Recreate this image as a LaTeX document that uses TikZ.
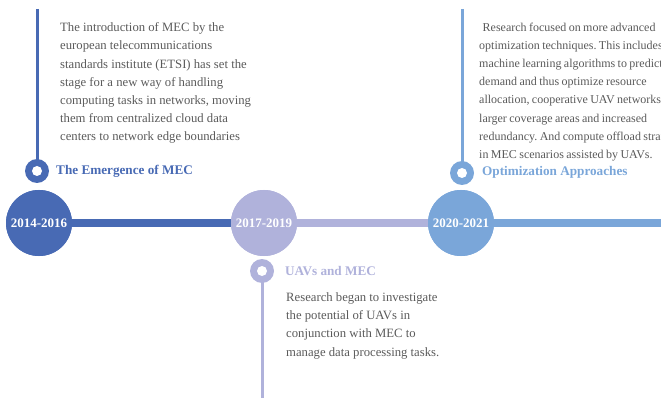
\documentclass[tikz,border=0pt]{standalone}
\usepackage{fontspec}
\setmainfont{Liberation Serif}
\frenchspacing
\definecolor{eraA}{RGB}{72,106,180}
\definecolor{eraB}{RGB}{176,178,219}
\definecolor{eraC}{RGB}{122,166,217}
\definecolor{bodygray}{RGB}{90,90,90}
% tighter word spacing for the long description
\newcommand{\densetext}{\fontsize{12}{18.2}\selectfont\spaceskip=0.2em\relax}
\begin{document}
\begin{tikzpicture}[x=1pt,y=-1pt,
  yearcircle/.style={circle,fill=#1,minimum size=66pt,inner sep=0pt,text=white,
    font=\fontsize{13}{13}\selectfont\bfseries},
  pinouter/.style={circle,fill=#1,minimum size=24pt,inner sep=0pt},
  pininner/.style={circle,fill=white,minimum size=10pt,inner sep=0pt},
  stem/.style={draw=#1,line width=3pt},
  bar/.style={draw=#1,line width=8pt},
  title/.style={anchor=west,inner sep=0pt,text=#1,font=\fontsize{13.2}{13.2}\selectfont\bfseries},
  body/.style={anchor=north west,inner sep=0pt,align=left,text=bodygray,
    font=\fontsize{12.7}{18.2}\selectfont},
  densebody/.style={body,font=\densetext}]
\useasboundingbox (0,0) rectangle (661,398);
\clip (0,0) rectangle (661,398);
% timeline bars
\coordinate (barend) at (661,223);
\node[yearcircle=eraA] (y1) at (39,223) {};
\node[yearcircle=eraB] (y2) at (264,223) {};
\node[yearcircle=eraC] (y3) at (461,223) {};
\draw[bar=eraA] (y1.center) -- (y2.center);
\draw[bar=eraB] (y2.center) -- (y3.center);
\draw[bar=eraC] (y3.center) -- (barend);
\node[yearcircle=eraA] at (y1) {2014-2016};
\node[yearcircle=eraB] at (y2) {2017-2019};
\node[yearcircle=eraC] at (y3) {2020-2021};
% stems and pins
\coordinate (top1) at (37,9);
\coordinate (bot2) at (262,398);
\coordinate (top3) at (462,9);
\node[pinouter=eraA] (p1) at (37,171) {};
\node[pinouter=eraB] (p2) at (262,271) {};
\node[pinouter=eraC] (p3) at (462,173) {};
\draw[stem=eraA] (top1) -- (p1.center);
\draw[stem=eraB] (p2.center) -- (bot2);
\draw[stem=eraC] (top3) -- (p3.center);
\node[pininner] (c1) at (p1) {};
\node[pininner] (c2) at (p2) {};
\node[pininner] (c3) at (p3) {};
% titles
\node[title=eraA] (t1) at (56,171) {The Emergence of MEC};
\node[title=eraB] (t2) at (285,271) {UAVs and MEC};
\node[title=eraC] (t3) at (482,172) {Optimization Approaches};
% descriptions
\node[body] (d1) at (60,22.5) {The introduction of MEC by the\\
european telecommunications\\
standards institute (ETSI) has set the\\
stage for a new way of handling\\
computing tasks in networks, moving\\
them from centralized cloud data\\
centers to network edge boundaries};
\node[body] (d2) at (286,292.5) {Research began to investigate\\
the potential of UAVs in\\
conjunction with MEC to\\
manage data processing tasks.};
\node[densebody] (d3) at (479,22.5) {\hspace*{3.5pt}Research focused on more advanced\\
optimization techniques. This includes\\
machine learning algorithms to predict\\
demand and thus optimize resource\\
allocation, cooperative UAV networks for\\
larger coverage areas and increased\\
redundancy. And compute offload strategies\\
in MEC scenarios assisted by UAVs.};
\end{tikzpicture}
\end{document}
